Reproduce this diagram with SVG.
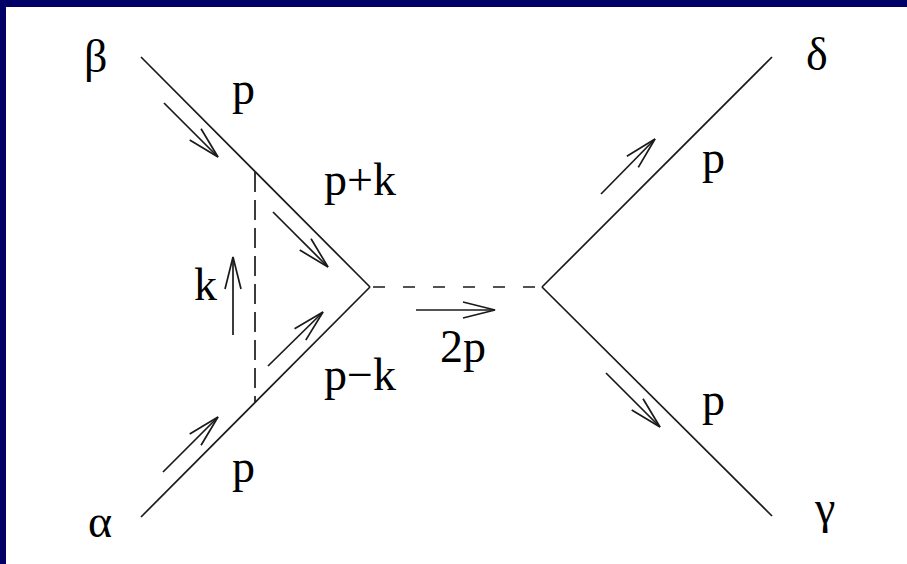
<svg xmlns="http://www.w3.org/2000/svg" width="907" height="564" viewBox="0 0 907 564">
<style>
.ln{fill:none;stroke:#1a1a1a;stroke-width:1.7;stroke-linecap:butt}
.dv{stroke-dasharray:20 8}
.dh{stroke-dasharray:12 18;stroke-dashoffset:27}
.mom{marker-end:url(#ah)}
</style>
<defs>
<marker id="ah" markerUnits="userSpaceOnUse" markerWidth="40" markerHeight="20" refX="0" refY="0" orient="auto" overflow="visible">
<path d="M-32,-8 L0,0 L-32,8" fill="none" stroke="#1a1a1a" stroke-width="1.7"/>
</marker>
</defs>
<rect width="907" height="564" fill="#ffffff"/>
<rect x="0" y="0" width="907" height="7" fill="#000066"/>
<rect x="0" y="0" width="6" height="564" fill="#000066"/>

<g id="connectors">
<line class="ln" x1="141" y1="57" x2="370" y2="287"/>
<line class="ln" x1="141" y1="517" x2="370" y2="287"/>
<line class="ln dv" x1="255" y1="172" x2="255" y2="402"/>
<line class="ln dh" x1="370" y1="287" x2="542" y2="287"/>
<line class="ln" x1="542" y1="287" x2="772" y2="57"/>
<line class="ln" x1="542" y1="287" x2="772" y2="516"/>
<line class="ln mom" x1="164" y1="103" x2="218" y2="157"/>
<line class="ln mom" x1="273" y1="212" x2="328" y2="267"/>
<line class="ln mom" x1="233" y1="335" x2="233" y2="257"/>
<line class="ln mom" x1="268" y1="366" x2="323" y2="312"/>
<line class="ln mom" x1="163" y1="472" x2="218" y2="417"/>
<line class="ln mom" x1="416" y1="310" x2="495" y2="310"/>
<line class="ln mom" x1="601" y1="194" x2="655" y2="139"/>
<line class="ln mom" x1="606" y1="373" x2="660" y2="427"/>
</g>

<g font-family="Liberation Serif, DejaVu Serif, serif" font-size="46" fill="#000">
<g id="node-beta"><text x="84" y="72">β</text></g>
<g id="node-alpha"><text x="88" y="537">α</text></g>
<g id="node-delta"><text x="806" y="70">δ</text></g>
<g id="node-gamma"><text x="815" y="523">γ</text></g>
<g id="labels">
<text x="232" y="104">p</text>
<text x="324" y="195">p+k</text>
<text x="194" y="300">k</text>
<text x="324" y="390">p−k</text>
<text x="232" y="482">p</text>
<text x="440" y="362">2p</text>
<text x="702" y="173">p</text>
<text x="702" y="415">p</text>
</g>
</g>
</svg>
